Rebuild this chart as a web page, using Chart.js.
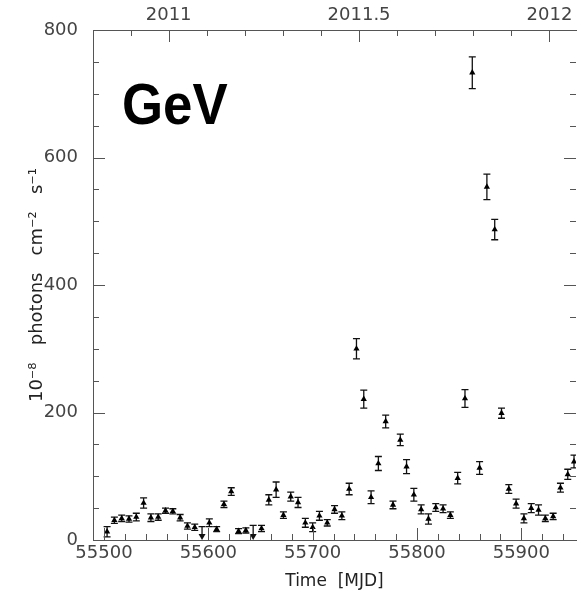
<!DOCTYPE html>
<html><head><meta charset="utf-8">
<script src="https://cdn.jsdelivr.net/npm/chart.js@4/dist/chart.umd.min.js"></script>
<style>
html,body{margin:0;padding:0;overflow:hidden;background:#fff;width:577px;height:601px}
#wrap{position:absolute;left:0;top:0;width:580px;height:601px}
</style>
</head><body><div id="wrap"><canvas id="c" width="580" height="601"></canvas></div>
<script>
// Weekly GeV light curve (MJD, flux in 1e-8 photons cm^-2 s^-1, 1-sigma error)
const mjd = [55503,55510,55517,55524,55531,55538,55545,55552,55559,55566,55573,55580,55587,
  55601,55608,55615,55622,55629,55636,55651,55658,55665,55672,55679,55686,55693,55700,
  55706.5,55714,55721,55728,55735,55742,55749,55756,55763,55770,55777,55784,55790,55797,
  55804,55811,55818,55825,55832,55839,55846,55853,55860,55867,55874.5,55881,55888,55895,
  55902.5,55909.5,55916.5,55923,55930.5,55937.5,55944.5,55950.5];
const flux = [13,31,34,33,36,58,35,36,46,45,35,22,20,
  27,17,56,76,14,15,18,63,79,39,68,59,27,20,
  38,27,48,38,80,300,221,67,120,186,55,157,115,71,
  48,33,51,49,39,97,222,733,113,554,487,199,80,57,
  34,50,47,34,37,82,103,123];
const fluxErr = [8,5,5,5,6,8,6,5,4,4,5,5,5,
  6,4,5,6,4,4,5,8,12,5,7,8,7,7,
  7,5,6,6,9,16,14,10,11,10,6,9,11,10,
  7,8,6,6,5,9,14,25,10,20,16,8,7,7,
  7,7,8,5,5,7,8,10];
// Upper limits
const ulMjd = [55594, 55643];
const ulFlux = [21, 23];
// Axis tick labels
const mjdTicks = [55500, 55600, 55700, 55800, 55900];
const fluxTicks = [0, 200, 400, 600, 800];
const yearTicks = [2011, 2011.5, 2012];
const yearLabels = ['2011', '2011.5', '2012'];

const yearToMjd = yr => 55562 + (yr - 2011) * 365;
const X_MIN = 55489.5, X_MAX = 55952.4;
const TICK_FONT = {family: '"DejaVu Sans", sans-serif', size: 18};
const TICK_COLOR = '#444';
const AXIS_COLOR = '#555';

const frameTicks = {
  id: 'frameTicks',
  afterDraw(chart) {
    const {ctx, chartArea: a, scales: {x, y}} = chart;
    ctx.save();
    ctx.strokeStyle = AXIS_COLOR; ctx.lineWidth = 1;
    const line = (x1, y1, x2, y2) => { ctx.beginPath(); ctx.moveTo(x1, y1); ctx.lineTo(x2, y2); ctx.stroke(); };
    // bottom ticks
    for (let v = 55500; v <= X_MAX; v += 20) {
      const p = Math.round(x.getPixelForValue(v)) + 0.5;
      line(p, a.bottom, p, a.bottom - (v % 100 === 0 ? 12 : 6));
    }
    // top ticks (decimal years)
    for (let k = 0; k <= 14; k++) {
      const yr = 2010.8 + k * 0.1;
      const m = yearToMjd(yr);
      if (m < X_MIN || m > X_MAX) continue;
      const major = Math.abs(yr * 2 - Math.round(yr * 2)) < 1e-6;
      const p = Math.round(x.getPixelForValue(m)) + 0.5;
      line(p, a.top, p, a.top + (major ? 12 : 6));
    }
    // left & right ticks
    for (let v = 0; v <= 800; v += 50) {
      const p = Math.round(y.getPixelForValue(v)) + 0.5;
      const len = v % 200 === 0 ? 12 : 6;
      line(a.left, p, a.left + len, p);
      line(a.right, p, a.right - len, p);
    }
    ctx.restore();
  }
};

const errorBars = {
  id: 'errorBars',
  beforeDatasetsDraw(chart) {
    const {ctx, chartArea: a, scales: {x, y}} = chart;
    ctx.save();
    ctx.beginPath(); ctx.rect(a.left, a.top, a.right - a.left, a.bottom - a.top); ctx.clip();
    ctx.strokeStyle = '#111'; ctx.lineWidth = 1.3;
    const cap = 3.5;
    mjd.forEach((m, i) => {
      const px = x.getPixelForValue(m);
      const yt = y.getPixelForValue(flux[i] + fluxErr[i]);
      const yb = y.getPixelForValue(Math.max(0, flux[i] - fluxErr[i]));
      ctx.beginPath();
      ctx.moveTo(px, yt); ctx.lineTo(px, yb);
      ctx.moveTo(px - cap, yt); ctx.lineTo(px + cap, yt);
      ctx.moveTo(px - cap, yb); ctx.lineTo(px + cap, yb);
      ctx.stroke();
    });
    // upper limits: cap + arrow down
    ulMjd.forEach((m, i) => {
      const px = x.getPixelForValue(m);
      const yt = y.getPixelForValue(ulFlux[i]);
      const yb = y.getPixelForValue(0);
      ctx.beginPath();
      ctx.moveTo(px - cap, yt); ctx.lineTo(px + cap, yt);
      ctx.moveTo(px, yt); ctx.lineTo(px, yb - 3);
      ctx.stroke();
      ctx.fillStyle = '#111';
      ctx.beginPath();
      ctx.moveTo(px - 3.5, yb - 6); ctx.lineTo(px + 3.5, yb - 6); ctx.lineTo(px, yb); ctx.closePath();
      ctx.fill();
    });
    ctx.restore();
  }
};

const gevLabel = {
  id: 'gevLabel',
  afterDraw(chart) {
    const ctx = chart.ctx;
    ctx.save();
    ctx.fillStyle = '#000';
    ctx.font = 'bold 58px "Liberation Sans", Arial, sans-serif';
    ctx.textBaseline = 'alphabetic';
    ctx.translate(122, 124);
    ctx.scale(0.91, 1);
    ctx.fillText('GeV', 0, 0);
    ctx.restore();
  }
};

new Chart(document.getElementById('c'), {
  type: 'scatter',
  data: {
    datasets: [{
      data: mjd.map((m, i) => ({x: m, y: flux[i]})),
      pointStyle: 'triangle',
      pointRadius: 3.6,
      backgroundColor: '#000',
      borderColor: '#000',
      borderWidth: 0
    }]
  },
  options: {
    responsive: false,
    animation: false,
    devicePixelRatio: 1,
    layout: {padding: {left: 0, right: 1, top: 0, bottom: 0}},
    plugins: {legend: {display: false}, tooltip: {enabled: false}},
    scales: {
      x: {
        type: 'linear', position: 'bottom', min: X_MIN, max: X_MAX,
        afterBuildTicks: s => { s.ticks = mjdTicks.map(v => ({value: v})); },
        afterFit: s => { s.height = 61; },
        ticks: {font: TICK_FONT, color: TICK_COLOR, padding: 3, maxRotation: 0, autoSkip: false,
          callback: v => String(v)},
        grid: {display: false, drawTicks: false},
        border: {display: true, color: AXIS_COLOR, width: 1},
        title: {display: true, text: 'Time  [MJD]', color: '#222',
          font: {family: '"DejaVu Sans", sans-serif', size: 17}, padding: {top: 0, bottom: 9}}
      },
      x2: {
        type: 'linear', position: 'top', min: X_MIN, max: X_MAX,
        afterBuildTicks: s => { s.ticks = yearTicks.map(v => ({value: yearToMjd(v)})); },
        afterFit: s => { s.height = 30; },
        ticks: {font: TICK_FONT, color: TICK_COLOR, padding: 4, maxRotation: 0, autoSkip: false,
          callback: (v, i) => yearLabels[i]},
        grid: {display: false, drawTicks: false},
        border: {display: true, color: AXIS_COLOR, width: 1}
      },
      y: {
        type: 'linear', position: 'left', min: 0, max: 800,
        afterBuildTicks: s => { s.ticks = fluxTicks.map(v => ({value: v})); },
        afterFit: s => { s.width = 93; },
        ticks: {font: TICK_FONT, color: TICK_COLOR, padding: 15, callback: v => String(v)},
        grid: {display: false, drawTicks: false},
        border: {display: true, color: AXIS_COLOR, width: 1},
        title: {display: true, text: '10⁻⁸   photons   cm⁻²   s⁻¹', color: '#222',
          font: {family: '"DejaVu Sans", sans-serif', size: 18}, padding: {top: 27, bottom: 0}}
      }
    }
  },
  plugins: [errorBars, frameTicks, gevLabel]
});
</script>
</body></html>
